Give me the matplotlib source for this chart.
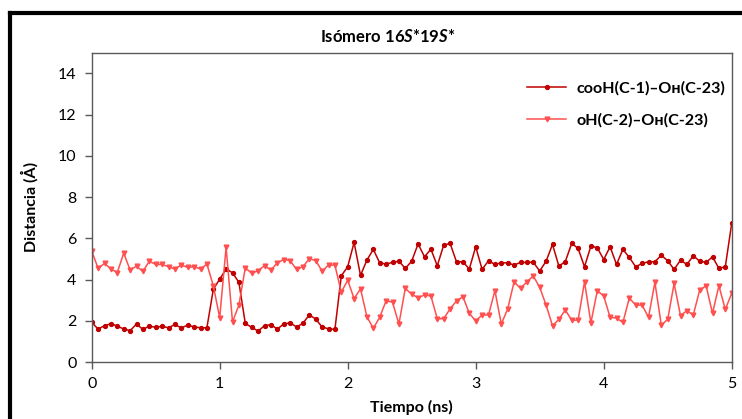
import numpy as np
import matplotlib
matplotlib.use("Agg")
import matplotlib.pyplot as plt
from matplotlib.lines import Line2D

plt.rcParams['font.family'] = ['Lato', 'DejaVu Sans']
plt.rcParams['mathtext.fontset'] = 'custom'
plt.rcParams['mathtext.rm'] = 'Lato'
plt.rcParams['mathtext.it'] = 'Lato:italic'
plt.rcParams['mathtext.bf'] = 'Lato:bold'
plt.rcParams['mathtext.bfit'] = 'Lato:bold:italic'

# Simulation time (ns), sampled every 0.05 ns
tiempo = np.round(np.arange(0, 101) * 0.05, 2)

# Distances (Å)
d_cooh = [1.92, 1.60, 1.76, 1.86, 1.74, 1.60, 1.52, 1.84, 1.58, 1.74,
          1.68, 1.73, 1.66, 1.82, 1.65, 1.79, 1.70, 1.66, 1.66, 3.52,
          4.02, 4.51, 4.33, 3.86, 1.87, 1.68, 1.50, 1.76, 1.81, 1.60,
          1.84, 1.90, 1.70, 1.87, 2.29, 2.08, 1.70, 1.61, 1.58, 4.18,
          4.62, 5.80, 4.20, 4.94, 5.46, 4.81, 4.75, 4.83, 4.89, 4.54,
          4.89, 5.73, 5.10, 5.47, 4.67, 5.67, 5.75, 4.86, 4.86, 4.51,
          5.59, 4.49, 4.91, 4.73, 4.81, 4.81, 4.70, 4.83, 4.83, 4.84,
          4.41, 4.89, 5.70, 4.65, 4.87, 5.75, 5.51, 4.62, 5.62, 5.54,
          4.97, 5.59, 4.73, 5.46, 5.07, 4.62, 4.78, 4.86, 4.86, 5.18,
          4.91, 4.49, 4.94, 4.73, 5.15, 4.89, 4.83, 5.10, 4.54, 4.62,
          6.72]

d_oh = [5.39, 4.54, 4.78, 4.51, 4.34, 5.28, 4.46, 4.65, 4.39, 4.89,
        4.73, 4.73, 4.62, 4.51, 4.70, 4.59, 4.62, 4.51, 4.75, 3.70,
        2.15, 5.56, 1.95, 2.76, 4.57, 4.30, 4.43, 4.67, 4.46, 4.81,
        4.97, 4.92, 4.49, 4.62, 5.01, 4.92, 4.41, 4.70, 4.70, 3.38,
        3.97, 3.07, 3.55, 2.20, 1.63, 2.17, 2.97, 2.90, 1.84, 3.57,
        3.28, 3.12, 3.25, 3.20, 2.10, 2.10, 2.58, 2.96, 3.17, 2.36,
        1.99, 2.28, 2.28, 3.46, 1.84, 2.58, 3.89, 3.57, 3.89, 4.17,
        3.62, 2.76, 1.76, 2.07, 2.52, 2.03, 2.03, 3.89, 1.90, 3.46,
        3.20, 2.17, 2.13, 1.92, 3.10, 2.76, 2.76, 2.17, 3.86, 1.79,
        2.07, 3.81, 2.25, 2.49, 2.28, 3.49, 3.70, 2.36, 3.70, 2.55,
        3.33]

labels = ["cooH(C-1)\u2012O\u029c(C-23)", "oH(C-2)\u2012O\u029c(C-23)"]
x_ticks = [0, 1, 2, 3, 4, 5]
y_ticks = [0, 2, 4, 6, 8, 10, 12, 14]

W, H = 742, 419
fig = plt.figure(figsize=(W / 100, H / 100), dpi=100)
ax = fig.add_axes([91.7 / W, 1 - 362 / H, 640 / W, (362 - 52.7) / H])

ax.plot(tiempo, d_cooh, color='#C00000', lw=1.1, marker='o', ms=2.8,
        label=labels[0])
ax.plot(tiempo, d_oh, color='#FF4F4F', lw=1.1, marker='v', ms=3.4,
        label=labels[1])

ax.set_xlim(0, 5)
ax.set_ylim(0, 15)
ax.set_xticks(x_ticks)
ax.set_yticks(y_ticks)
ax.tick_params(labelsize=11.5, length=5, width=1, color='#595959',
               direction='out', pad=6)
for s in ax.spines.values():
    s.set_color('#595959')
    s.set_linewidth(1)

ax.set_xlabel('Tiempo (ns)', fontsize=11.5, fontweight='bold', labelpad=6)
ax.set_ylabel('Distancia (Å)', fontsize=11.5, fontweight='bold', labelpad=14)

fig.text(388 / W, 1 - 36 / H, r'Isómero 16$\mathbfit{S}$*19$\mathbfit{S}$*',
         ha='center', va='center', fontsize=12, fontweight='bold')

leg = fig.legend(loc='upper left', bbox_to_anchor=(527 / W, 1 - 81 / H),
                 bbox_transform=fig.transFigure, frameon=False,
                 borderaxespad=0, borderpad=0,
                 prop={'weight': 'bold', 'size': 11.6}, handlelength=2.45,
                 labelspacing=1.1, handletextpad=0.6)

# outer border
fig.add_artist(Line2D([10.3 / W, 10.3 / W], [1 - 12.7 / H, -0.05],
                      transform=fig.transFigure, color='black', lw=3,
                      solid_capstyle='projecting'))
fig.add_artist(Line2D([10.3 / W, 1.05], [1 - 12.7 / H, 1 - 12.7 / H],
                      transform=fig.transFigure, color='black', lw=3,
                      solid_capstyle='projecting'))

fig.savefig('out.png', dpi=100)
